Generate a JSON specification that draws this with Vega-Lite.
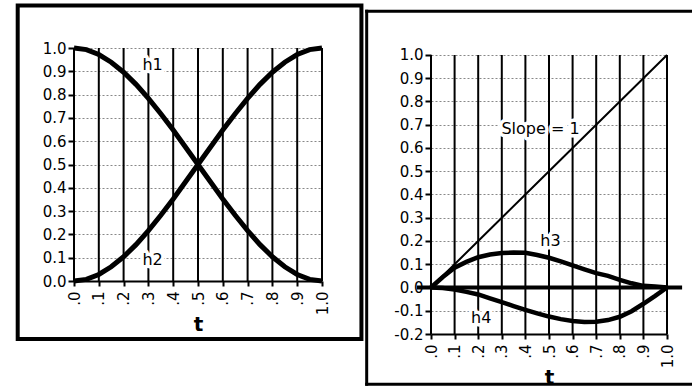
{
  "$schema": "https://vega.github.io/schema/vega-lite/v6.json",
  "padding": {"left": 15, "top": 3, "right": 0, "bottom": 0},
  "spacing": 0,
  "datasets": {
    "ticks": [{"t":0},{"t":0.1},{"t":0.2},{"t":0.3},{"t":0.4},{"t":0.5},{"t":0.6},{"t":0.7},{"t":0.8},{"t":0.9},{"t":1}],
    "left": [
      {"t":0,"curve":"h1","v":1},{"t":0.05,"curve":"h1","v":0.993},{"t":0.1,"curve":"h1","v":0.972},{"t":0.15,"curve":"h1","v":0.939},{"t":0.2,"curve":"h1","v":0.896},{"t":0.25,"curve":"h1","v":0.844},{"t":0.3,"curve":"h1","v":0.784},{"t":0.35,"curve":"h1","v":0.718},{"t":0.4,"curve":"h1","v":0.648},{"t":0.45,"curve":"h1","v":0.574},{"t":0.5,"curve":"h1","v":0.5},{"t":0.55,"curve":"h1","v":0.426},{"t":0.6,"curve":"h1","v":0.352},{"t":0.65,"curve":"h1","v":0.282},{"t":0.7,"curve":"h1","v":0.216},{"t":0.75,"curve":"h1","v":0.156},{"t":0.8,"curve":"h1","v":0.104},{"t":0.85,"curve":"h1","v":0.061},{"t":0.9,"curve":"h1","v":0.028},{"t":0.95,"curve":"h1","v":0.007},{"t":1,"curve":"h1","v":0},
      {"t":0,"curve":"h2","v":0},{"t":0.05,"curve":"h2","v":0.007},{"t":0.1,"curve":"h2","v":0.028},{"t":0.15,"curve":"h2","v":0.061},{"t":0.2,"curve":"h2","v":0.104},{"t":0.25,"curve":"h2","v":0.156},{"t":0.3,"curve":"h2","v":0.216},{"t":0.35,"curve":"h2","v":0.282},{"t":0.4,"curve":"h2","v":0.352},{"t":0.45,"curve":"h2","v":0.426},{"t":0.5,"curve":"h2","v":0.5},{"t":0.55,"curve":"h2","v":0.574},{"t":0.6,"curve":"h2","v":0.648},{"t":0.65,"curve":"h2","v":0.718},{"t":0.7,"curve":"h2","v":0.784},{"t":0.75,"curve":"h2","v":0.844},{"t":0.8,"curve":"h2","v":0.896},{"t":0.85,"curve":"h2","v":0.939},{"t":0.9,"curve":"h2","v":0.972},{"t":0.95,"curve":"h2","v":0.993},{"t":1,"curve":"h2","v":1}
    ],
    "right": [
      {"t":0,"curve":"h3","v":0},{"t":0.05,"curve":"h3","v":0.045},{"t":0.1,"curve":"h3","v":0.085},{"t":0.15,"curve":"h3","v":0.11},{"t":0.2,"curve":"h3","v":0.13},{"t":0.25,"curve":"h3","v":0.142},{"t":0.3,"curve":"h3","v":0.148},{"t":0.35,"curve":"h3","v":0.15},{"t":0.4,"curve":"h3","v":0.149},{"t":0.45,"curve":"h3","v":0.14},{"t":0.5,"curve":"h3","v":0.128},{"t":0.55,"curve":"h3","v":0.112},{"t":0.6,"curve":"h3","v":0.095},{"t":0.65,"curve":"h3","v":0.078},{"t":0.7,"curve":"h3","v":0.062},{"t":0.75,"curve":"h3","v":0.05},{"t":0.8,"curve":"h3","v":0.033},{"t":0.85,"curve":"h3","v":0.018},{"t":0.9,"curve":"h3","v":0.007},{"t":0.95,"curve":"h3","v":0.004},{"t":1,"curve":"h3","v":0},
      {"t":0,"curve":"h4","v":0},{"t":0.05,"curve":"h4","v":-0.002},{"t":0.1,"curve":"h4","v":-0.009},{"t":0.15,"curve":"h4","v":-0.019},{"t":0.2,"curve":"h4","v":-0.03},{"t":0.25,"curve":"h4","v":-0.047},{"t":0.3,"curve":"h4","v":-0.063},{"t":0.35,"curve":"h4","v":-0.08},{"t":0.4,"curve":"h4","v":-0.096},{"t":0.45,"curve":"h4","v":-0.111},{"t":0.5,"curve":"h4","v":-0.125},{"t":0.55,"curve":"h4","v":-0.136},{"t":0.6,"curve":"h4","v":-0.144},{"t":0.65,"curve":"h4","v":-0.148},{"t":0.7,"curve":"h4","v":-0.147},{"t":0.75,"curve":"h4","v":-0.14},{"t":0.8,"curve":"h4","v":-0.126},{"t":0.85,"curve":"h4","v":-0.102},{"t":0.9,"curve":"h4","v":-0.07},{"t":0.95,"curve":"h4","v":-0.036},{"t":1,"curve":"h4","v":0}
    ],
    "slope": [{"t":0,"v":0},{"t":0.1,"v":0.1},{"t":0.2,"v":0.2},{"t":0.3,"v":0.3},{"t":0.4,"v":0.4},{"t":0.5,"v":0.5},{"t":0.6,"v":0.6},{"t":0.7,"v":0.7},{"t":0.8,"v":0.8},{"t":0.9,"v":0.9},{"t":1,"v":1}],
    "leftLabels": [{"t":0.317,"v":0.927,"label":"h1"},{"t":0.317,"v":0.088,"label":"h2"}],
    "rightLabels": [{"t":0.464,"v":0.68,"label":"Slope = 1"},{"t":0.506,"v":0.202,"label":"h3"},{"t":0.213,"v":-0.133,"label":"h4"}]
  },
  "hconcat": [
    {
      "width": 248,
      "height": 233,
      "layer": [
        {
          "data": {"name": "ticks"},
          "mark": {"type": "rule", "color": "black", "strokeWidth": 2},
          "encoding": {
            "x": {"field": "t", "type": "quantitative", "scale": {"domain": [0, 1], "nice": false, "zero": false},
                  "axis": {"values": [0,0.1,0.2,0.3,0.4,0.5,0.6,0.7,0.8,0.9,1], "tickCount": 30, "labelExpr": "datum.value == 1 ? '1.0' : replace(format(datum.value, '.1f'), '0.', '.')", "title": "t",
                           "labelOverlap": false, "labelFontSize": 15, "labelFont": "DejaVu Sans", "labelColor": "black", "labelAngle": -90, "labelPadding": 5,
                           "grid": false, "tickSize": 5, "tickWidth": 2, "tickColor": "black", "domainColor": "black", "domainWidth": 2,
                           "titleFont": "DejaVu Sans", "titleFontWeight": "bold", "titleFontSize": 20, "titleColor": "black", "titlePadding": 0}},
            "y": {"datum": 0, "type": "quantitative", "scale": {"domain": [0, 1], "nice": false, "zero": false},
                  "axis": {"values": [0,0.1,0.2,0.3,0.4,0.5,0.6,0.7,0.8,0.9,1], "tickCount": 30, "labelExpr": "datum.value < 0 ? '-' + format(-datum.value, '.1f') : format(datum.value, '.1f')", "title": null,
                           "labelOverlap": false, "labelFontSize": 15, "labelFont": "DejaVu Sans", "labelColor": "black", "labelPadding": 2,
                           "grid": true, "gridColor": "#888888", "gridDash": [2, 2], "gridWidth": 1, "domain": false, "tickSize": 6, "tickWidth": 2, "tickColor": "black"}},
            "y2": {"datum": 1}
          }
        },
        {
          "data": {"name": "left"},
          "mark": {"type": "line", "color": "black", "strokeWidth": 5},
          "encoding": {
            "x": {"field": "t", "type": "quantitative"},
            "y": {"field": "v", "type": "quantitative"},
            "detail": {"field": "curve"}
          }
        },
        {
          "data": {"name": "leftLabels"},
          "mark": {"type": "text", "font": "DejaVu Sans", "fontSize": 16, "fill": "white", "stroke": "white", "strokeWidth": 7, "strokeJoin": "round"},
          "encoding": {
            "x": {"field": "t", "type": "quantitative"},
            "y": {"field": "v", "type": "quantitative"},
            "text": {"field": "label"}
          }
        },
        {
          "data": {"name": "leftLabels"},
          "mark": {"type": "text", "font": "DejaVu Sans", "fontSize": 16, "color": "black"},
          "encoding": {
            "x": {"field": "t", "type": "quantitative"},
            "y": {"field": "v", "type": "quantitative"},
            "text": {"field": "label"}
          }
        },
        {
          "data": {"values": [{}]},
          "mark": {"type": "rect", "filled": false, "stroke": "black", "strokeWidth": 4},
          "encoding": {
            "x": {"datum": -0.227, "type": "quantitative"},
            "x2": {"datum": 1.159},
            "y": {"datum": 1.182, "type": "quantitative"},
            "y2": {"datum": -0.249}
          }
        }
      ]
    },
    {
      "width": 236,
      "height": 286,
      "layer": [
        {
          "data": {"name": "ticks"},
          "mark": {"type": "rule", "color": "black", "strokeWidth": 2},
          "encoding": {
            "x": {"field": "t", "type": "quantitative", "scale": {"domain": [0, 1], "nice": false, "zero": false},
                  "axis": {"values": [0,0.1,0.2,0.3,0.4,0.5,0.6,0.7,0.8,0.9,1], "tickCount": 30, "labelExpr": "datum.value == 1 ? '1.0' : replace(format(datum.value, '.1f'), '0.', '.')", "title": "t",
                           "labelOverlap": false, "labelFontSize": 15, "labelFont": "DejaVu Sans", "labelColor": "black", "labelAngle": -90, "labelPadding": 5,
                           "grid": false, "tickSize": 5, "tickWidth": 2, "tickColor": "black", "domainColor": "black", "domainWidth": 2,
                           "titleFont": "DejaVu Sans", "titleFontWeight": "bold", "titleFontSize": 20, "titleColor": "black", "titlePadding": 0}},
            "y": {"datum": -0.2, "type": "quantitative", "scale": {"domain": [-0.2, 1.03], "nice": false, "zero": false},
                  "axis": {"values": [-0.2,-0.1,0,0.1,0.2,0.3,0.4,0.5,0.6,0.7,0.8,0.9,1], "tickCount": 30, "labelExpr": "datum.value < 0 ? '-' + format(-datum.value, '.1f') : format(datum.value, '.1f')", "title": null,
                           "labelOverlap": false, "labelFontSize": 15, "labelFont": "DejaVu Sans", "labelColor": "black", "labelPadding": 2,
                           "grid": true, "gridColor": "#888888", "gridDash": [2, 2], "gridWidth": 1, "domain": false, "tickSize": 6, "tickWidth": 2, "tickColor": "black"}},
            "y2": {"datum": 1}
          }
        },
        {
          "data": {"name": "slope"},
          "mark": {"type": "line", "color": "black", "strokeWidth": 2},
          "encoding": {
            "x": {"field": "t", "type": "quantitative"},
            "y": {"field": "v", "type": "quantitative"}
          }
        },
        {
          "data": {"name": "right"},
          "mark": {"type": "line", "color": "black", "strokeWidth": 4.5},
          "encoding": {
            "x": {"field": "t", "type": "quantitative"},
            "y": {"field": "v", "type": "quantitative"},
            "detail": {"field": "curve"}
          }
        },
        {
          "data": {"values": [{}]},
          "mark": {"type": "rule", "color": "black", "strokeWidth": 4},
          "encoding": {
            "x": {"datum": -0.06, "type": "quantitative"},
            "x2": {"datum": 1.064},
            "y": {"datum": 0, "type": "quantitative"}
          }
        },
        {
          "data": {"name": "rightLabels"},
          "mark": {"type": "text", "font": "DejaVu Sans", "fontSize": 16, "fill": "white", "stroke": "white", "strokeWidth": 7, "strokeJoin": "round"},
          "encoding": {
            "x": {"field": "t", "type": "quantitative"},
            "y": {"field": "v", "type": "quantitative"},
            "text": {"field": "label"}
          }
        },
        {
          "data": {"name": "rightLabels"},
          "mark": {"type": "text", "font": "DejaVu Sans", "fontSize": 16, "color": "black"},
          "encoding": {
            "x": {"field": "t", "type": "quantitative"},
            "y": {"field": "v", "type": "quantitative"},
            "text": {"field": "label"}
          }
        },
        {
          "data": {"values": [{}]},
          "mark": {"type": "rule", "color": "black", "strokeWidth": 3, "strokeCap": "square"},
          "encoding": {
            "x": {"datum": -0.2725, "type": "quantitative"},
            "x2": {"datum": 1.114},
            "y": {"datum": 1.188, "type": "quantitative"}
          }
        },
        {
          "data": {"values": [{}]},
          "mark": {"type": "rule", "color": "black", "strokeWidth": 3, "strokeCap": "square"},
          "encoding": {
            "x": {"datum": -0.2725, "type": "quantitative"},
            "x2": {"datum": 1.114},
            "y": {"datum": -0.416, "type": "quantitative"}
          }
        },
        {
          "data": {"values": [{}]},
          "mark": {"type": "rule", "color": "black", "strokeWidth": 3, "strokeCap": "square"},
          "encoding": {
            "x": {"datum": -0.2725, "type": "quantitative"},
            "y": {"datum": 1.188, "type": "quantitative"},
            "y2": {"datum": -0.416}
          }
        }
      ]
    }
  ],
  "config": {
    "view": {"stroke": null},
    "font": "DejaVu Sans"
  }
}
